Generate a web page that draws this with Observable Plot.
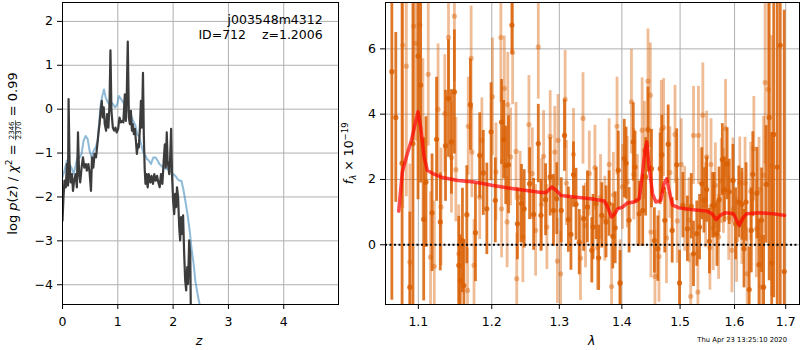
<!DOCTYPE html>
<html><head><meta charset="utf-8">
<script src="https://cdn.jsdelivr.net/npm/d3@7"></script>
<script src="https://cdn.jsdelivr.net/npm/@observablehq/plot@0.6"></script>
<style>
body{margin:0;background:#fff;}
#wrap{position:relative;width:800px;height:350px;font-family:"DejaVu Sans",sans-serif;}
#wrap svg{position:absolute;top:0;overflow:visible;}
</style></head><body><div id="wrap"></div><script>
// ---------- left panel: log p(z) ----------
const zTicks = [0, 1, 2, 3, 4];
const pTicks = [-4, -3, -2, -1, 0, 1, 2];
const zDark = [0,0.018,0.036,0.06,0.08,0.1,0.11,0.127,0.145,0.17,0.19,0.21,0.236,0.26,0.28,0.3,0.32,0.345,0.37,0.394,0.42,0.44,0.467,0.49,0.515,0.533,0.557,0.58,0.606,0.63,0.655,0.67,0.69,0.71,0.727,0.745,0.764,0.788,0.806,0.83,0.85,0.867,0.885,0.91,0.933,0.957,0.98,1.006,1.03,1.055,1.08,1.1,1.127,1.145,1.16,1.18,1.2,1.218,1.236,1.255,1.27,1.29,1.31,1.327,1.345,1.364,1.38,1.4,1.418,1.436,1.455,1.47,1.485,1.5,1.52,1.54,1.56,1.59,1.61,1.636,1.66,1.685,1.71,1.733,1.757,1.78,1.806,1.83,1.85,1.867,1.885,1.9,1.93,1.945,1.964,1.98,2.0,2.02,2.036,2.055,2.07,2.09,2.11,2.127,2.145,2.164,2.18,2.2,2.218,2.236,2.255,2.27,2.29,2.31,2.32];
const pDark = [-2.54,-2.0,-1.63,-1.78,-1.25,-1.74,0.23,-1.17,-1.67,-1.48,-1.86,-1.63,-1.48,-1.78,-0.53,-1.48,-1.67,-1.33,-1.1,-1.33,-1.25,-1.4,-1.25,-1.44,-1.86,-1.1,-1.33,-1.02,-1.1,-0.8,-0.49,-0.34,-0.04,0.19,-0.19,0.04,-0.34,-0.49,-0.11,-0.42,0.11,1.34,-0.04,-0.42,-0.49,-0.42,-0.53,-0.45,-0.19,-0.30,-0.27,-0.30,0.34,-0.27,0.19,1.54,-0.19,-0.34,-0.04,-0.49,-0.34,-0.57,-0.45,-0.72,-1.02,-0.8,-0.87,-0.42,0.19,-0.42,0.83,-0.57,-1.33,-1.7,-1.48,-1.78,-1.48,-1.67,-1.52,-1.70,-1.48,-1.63,-1.52,-1.67,-1.78,-1.48,-1.70,-1.17,-0.80,-1.33,-0.53,-1.17,-1.48,-1.17,-0.45,-1.48,-2.08,-2.39,-1.93,-2.23,-1.78,-2.0,-2.69,-2.99,-2.46,-2.84,-2.42,-3.30,-3.9,-4.13,-3.6,-3.98,-2.99,-3.30,-4.6];
const zBlue = [0,0.036,0.08,0.12,0.164,0.2,0.236,0.27,0.31,0.345,0.38,0.42,0.455,0.49,0.527,0.564,0.6,0.636,0.66,0.69,0.72,0.75,0.78,0.806,0.84,0.88,0.915,0.95,0.99,1.02,1.06,1.1,1.13,1.17,1.2,1.24,1.28,1.32,1.35,1.39,1.42,1.46,1.5,1.53,1.56,1.6,1.64,1.68,1.72,1.75,1.79,1.82,1.86,1.9,1.93,1.97,2.0,2.04,2.08,2.115,2.15,2.19,2.22,2.26,2.3,2.33,2.37,2.4,2.44,2.48,2.52];
const pBlue = [-1.55,-1.4,-1.17,-1.25,-1.33,-1.48,-1.29,-1.1,-1.1,-1.02,-0.72,-0.61,-0.68,-0.95,-1.1,-0.95,-0.87,-0.72,-0.34,0.11,0.30,0.45,0.27,0.19,0.11,0.15,0.11,0.04,0.11,0.30,0.23,0.15,0.08,0.0,-0.08,-0.15,-0.27,-0.38,-0.57,-0.64,-0.8,-0.98,-1.06,-1.14,-1.17,-1.25,-1.1,-1.1,-1.17,-1.25,-1.29,-1.33,-1.36,-1.36,-1.4,-1.44,-1.48,-1.52,-1.59,-1.63,-1.63,-1.86,-2.08,-2.39,-2.77,-3.14,-3.52,-3.9,-4.2,-4.45,-4.8];
const annot1 = "j003548m4312";
const annot2 = "ID=712    z=1.2006";

// ---------- right panel: spectrum ----------
const lamTicks = [1.1, 1.2, 1.3, 1.4, 1.5, 1.6, 1.7];
const fTicks = [0, 2, 4, 6];
const lamA = [1.066,1.071,1.079,1.089,1.093,1.0996,1.103,1.107,1.110,1.118,1.124,1.129,1.136,1.140,1.144,1.148,1.154,1.156,1.159,1.161,1.165,1.170,1.177,1.183,1.188,1.193,1.199,1.205,1.214,1.217,1.220,1.224,1.229,1.237,1.243,1.247,1.255,1.261,1.268,1.272,1.279,1.286,1.291,1.296,1.303,1.308,1.314,1.318,1.322,1.326,1.331,1.338,1.344,1.351,1.353,1.358,1.362,1.367,1.374,1.379,1.385,1.389,1.394,1.397,1.404,1.407,1.412,1.419,1.422,1.429,1.435,1.440,1.444,1.450,1.455,1.461,1.465,1.468,1.473,1.479,1.486,1.494,1.499,1.505,1.513,1.520,1.524,1.530,1.535,1.539,1.543,1.548,1.553,1.559,1.562,1.567,1.571,1.577,1.581,1.586,1.590,1.597,1.602,1.608,1.614,1.618,1.622,1.628,1.632,1.635,1.643,1.647,1.652,1.656,1.661,1.667,1.672,1.676,1.683,1.689,1.697];
const fA = [5.3,3.9,2.5,-1.3,3.1,5.78,4.89,0.78,1.92,0.98,3.23,0.70,3.03,4.48,3.15,4.68,-0.63,-1.10,0.13,-1.25,0.92,4.29,0.37,2.74,2.20,1.10,3.46,1.36,3.76,3.22,2.43,2.45,6.73,0.64,1.26,1.10,1.87,0.93,3.10,0.90,1.38,2.08,1.05,1.41,1.05,3.35,0.77,0.32,2.15,1.24,0.08,0.80,1.16,-0.17,0.54,1.26,-0.40,0.90,0.70,1.26,0.26,0.52,2.28,-1.18,2.64,2.50,0.75,3.15,2.38,0.95,1.05,2.08,3.53,2.33,0.13,-0.12,2.33,2.76,0.75,3.08,0.44,2.45,-1.17,1.21,0.49,1.18,-0.28,0.34,0.54,1.87,1.36,1.69,0.11,1.21,1.21,0.34,1.38,2.61,1.69,2.48,1.62,1.97,0.64,1.31,1.24,-0.12,1.31,-1.37,0.44,2.16,1.58,-0.61,0.75,-1.30,1.85,3.90,-0.56,3.38,2.38,6.11,-0.82];
const eA = [7,2.6,7,2.3,5,4.4,3,2.5,2.0,1.8,1.9,1.5,1.7,1.8,1.6,1.9,1.5,1.4,1.6,1.4,1.5,1.4,1.5,1.3,1.3,1.4,1.5,1.3,1.3,1.2,1.2,1.5,0.9,1.1,1.2,1.2,1.1,1.1,1.2,1.1,1.1,1.2,1.1,1.1,1.0,1.1,1.0,1.1,1.0,1.1,1.0,1.0,1.1,1.0,1.0,1.1,1.0,1.0,1.1,1.0,1.0,1.1,1.2,1.0,1.2,1.1,1.0,1.2,1.1,1.0,1.1,1.2,1.3,1.2,1.0,1.0,1.1,1.2,1.0,1.2,1.0,1.1,1.0,1.0,1.0,1.0,1.0,1.0,1.0,1.1,1.0,1.0,1.0,1.0,1.0,1.0,1.0,1.1,1.0,1.1,1.0,1.1,1.1,1.1,1.1,1.2,1.2,1.3,1.3,1.3,1.4,1.4,1.6,1.6,1.8,5,4,5,7,8,8];
const lamB = [1.080,1.0845,1.089,1.094,1.097,1.102,1.106,1.113,1.116,1.121,1.126,1.130,1.135,1.140,1.144,1.148,1.150,1.154,1.166,1.167,1.171,1.172,1.175,1.183,1.186,1.201,1.206,1.213,1.214,1.218,1.222,1.223,1.227,1.230,1.235,1.236,1.241,1.245,1.254,1.259,1.264,1.268,1.273,1.276,1.281,1.286,1.293,1.297,1.298,1.302,1.309,1.311,1.322,1.333,1.337,1.341,1.347,1.356,1.360,1.365,1.372,1.379,1.383,1.386,1.392,1.397,1.401,1.409,1.416,1.420,1.426,1.434,1.438,1.444,1.448,1.449,1.456,1.463,1.467,1.471,1.476,1.482,1.491,1.495,1.502,1.508,1.516,1.519,1.524,1.532,1.533,1.541,1.546,1.548,1.554,1.556,1.560,1.564,1.570,1.575,1.579,1.583,1.589,1.595,1.597,1.604,1.610,1.614,1.620,1.624,1.631,1.637,1.642,1.647,1.652,1.656,1.659,1.665,1.672];
const fB = [6.11,5.47,-0.53,6.70,6.17,6.73,3.20,5.22,-0.38,-0.66,4.15,1.16,4.02,6.35,2.67,7.00,2.30,-0.28,-1.40,3.63,5.71,2.84,-0.63,1.46,3.20,4.53,2.23,6.35,1.10,4.79,0.70,4.29,2.69,5.89,2.86,-1.04,1.46,0.24,3.68,2.18,0.44,6.06,1.24,2.71,0.54,3.32,2.84,-0.50,3.20,-0.89,4.45,1.89,2.77,-0.41,3.87,0.59,2.18,2.36,-0.09,1.46,0.80,2.46,-1.28,1.53,3.63,-1.15,1.77,1.92,4.38,2.16,1.36,3.51,2.89,5.01,4.58,0.39,-0.97,-0.36,3.53,3.59,0.21,2.21,3.38,0.73,2.46,1.10,0.75,-1.58,3.35,-1.45,3.35,3.97,1.21,2.69,-0.09,2.46,0.51,1.82,0.24,1.95,1.65,3.56,0.82,-0.17,1.97,0.15,1.90,0.80,1.89,-0.89,1.64,2.94,0.49,1.69,-1.30,2.13,4.97,4.76,2.41];
const eB = [5,4,3,3.5,3,3,2.5,2.2,2.0,2.0,2.0,1.8,1.8,2.0,1.7,2.0,1.6,1.5,1.3,1.5,1.6,1.4,1.4,1.3,1.3,1.8,1.5,2.0,1.5,1.6,1.4,1.6,1.5,1.6,1.5,1.4,1.4,1.4,1.5,1.4,1.4,1.6,1.4,1.4,1.3,1.4,1.4,1.3,1.4,1.3,1.5,1.3,1.4,1.3,1.4,1.3,1.3,1.3,1.3,1.3,1.3,1.4,1.3,1.3,1.5,1.3,1.3,1.4,1.6,1.4,1.4,1.6,1.5,1.6,1.6,1.4,1.4,1.4,1.5,1.5,1.4,1.4,1.5,1.3,1.4,1.3,1.3,1.3,1.5,1.3,1.5,1.6,1.3,1.4,1.3,1.4,1.3,1.3,1.3,1.3,1.3,1.5,1.3,1.3,1.3,1.3,1.4,1.4,1.4,1.4,1.5,1.6,1.5,1.6,1.6,1.8,2.5,3,4];
const lamModel = [1.0747,1.0793,1.0845,1.091,1.096,1.0996,1.103,1.1075,1.1118,1.119,1.1304,1.1526,1.1753,1.2,1.2237,1.2478,1.2724,1.2799,1.2884,1.295,1.3026,1.3232,1.3496,1.371,1.3766,1.383,1.3885,1.393,1.401,1.4095,1.4206,1.429,1.4347,1.4387,1.442,1.446,1.4518,1.4575,1.466,1.4718,1.4765,1.4806,1.4866,1.4982,1.5189,1.5488,1.5578,1.5657,1.573,1.5822,1.5977,1.604,1.6089,1.6153,1.623,1.6485,1.6745,1.6977];
const fModel = [1.03,2.23,2.69,3.2,3.72,4.07,3.61,2.69,2.28,2.18,2.07,1.97,1.92,1.82,1.74,1.67,1.6,1.6,1.77,1.67,1.51,1.46,1.41,1.34,1.15,0.85,0.95,1.10,1.15,1.28,1.31,1.41,2.18,2.89,3.15,2.38,1.56,1.31,1.36,1.87,2.02,1.67,1.21,1.13,1.08,1.03,0.95,0.77,0.90,0.98,0.95,0.75,0.59,0.80,0.95,0.98,0.95,0.90];
const stamp = "Thu Apr 23 13:25:10 2020";

// ---------- build ----------
const FONT = "DejaVu Sans";
const FS = "12.5px";
const minus = d => (d < 0 ? "\u2212" + Math.abs(d) : String(d));
const darkLine = zDark.map((z, i) => ({z, p: pDark[i]}));
const blueLine = zBlue.map((z, i) => ({z, p: pBlue[i]}));
const A = lamA.map((l, i) => ({lam: l, f: fA[i], e: eA[i]}));
const B = lamB.map((l, i) => ({lam: l, f: fB[i], e: eB[i]}));
const M = lamModel.map((l, i) => ({lam: l, f: fModel[i]}));
const GRID = "#b0b0b0";
const ORANGE = "#d95f02";

const left = Plot.plot({
  width: 340, height: 350,
  marginLeft: 62, marginRight: 2, marginTop: 2, marginBottom: 46,
  style: {fontFamily: FONT, fontSize: FS, background: "transparent", color: "black"},
  x: {domain: [0, 4.99], ticks: zTicks, tickFormat: minus, label: null, tickSize: 5, tickPadding: 7.5},
  y: {domain: [-4.45, 2.43], ticks: pTicks, tickFormat: minus, label: null, tickSize: 5, tickPadding: 4.5},
  marks: [
    Plot.ruleX(zTicks, {stroke: GRID, strokeWidth: 1}),
    Plot.ruleY(pTicks, {stroke: GRID, strokeWidth: 1}),
    Plot.line(blueLine, {x: "z", y: "p", stroke: "#1f77b4", strokeOpacity: 0.5, strokeWidth: 2, clip: true}),
    Plot.line(darkLine, {x: "z", y: "p", stroke: "#3c3c3c", strokeWidth: 2.2, clip: true}),
    Plot.frame({stroke: "black", strokeWidth: 1})
  ]
});
left.style.left = "0px";

const right = Plot.plot({
  width: 460, height: 350,
  marginLeft: 45, marginRight: 1, marginTop: 2, marginBottom: 46,
  style: {fontFamily: FONT, fontSize: FS, background: "transparent", color: "black"},
  x: {type: "log", domain: [1.058, 1.728], ticks: lamTicks, tickFormat: d => d.toFixed(1), label: null, tickSize: 5, tickPadding: 7.5},
  y: {domain: [-1.83, 7.42], ticks: fTicks, tickFormat: minus, label: null, tickSize: 5, tickPadding: 4.5},
  marks: [
    Plot.ruleX(lamTicks, {stroke: GRID, strokeWidth: 1}),
    Plot.ruleY(fTicks, {stroke: GRID, strokeWidth: 1}),
    Plot.ruleX(B, {x: "lam", y1: d => d.f - d.e, y2: d => d.f + d.e, stroke: ORANGE, strokeOpacity: 0.42, strokeWidth: 2.8, clip: true}),
    Plot.dot(B, {x: "lam", y: "f", r: 2.6, fill: ORANGE, fillOpacity: 0.42, stroke: null, clip: true}),
    Plot.ruleX(A, {x: "lam", y1: d => d.f - d.e, y2: d => d.f + d.e, stroke: ORANGE, strokeOpacity: 0.85, strokeWidth: 2.8, clip: true}),
    Plot.dot(A, {x: "lam", y: "f", r: 2.6, fill: ORANGE, fillOpacity: 0.85, stroke: null, clip: true}),
    Plot.line(M, {x: "lam", y: "f", stroke: "red", strokeOpacity: 0.7, strokeWidth: 3.5, clip: true}),
    Plot.ruleY([0], {stroke: "black", strokeWidth: 2, strokeDasharray: "2,2.5"}),
    Plot.frame({stroke: "black", strokeWidth: 1})
  ]
});
right.style.left = "340px";

const wrap = document.getElementById("wrap");
wrap.appendChild(left);
wrap.appendChild(right);

// ---------- texts ----------
const L = d3.select(left);
const tstyle = (sel, size = FS, anchor = "start") => sel.attr("font-family", FONT).attr("font-size", size)
  .attr("text-anchor", anchor).attr("fill", "black").style("white-space", "pre");
tstyle(L.append("text"), FS, "end").attr("x", 322.7).attr("y", 24).text(annot1);
tstyle(L.append("text"), FS, "end").attr("x", 322.7).attr("y", 39.3).text(annot2);
tstyle(L.append("text"), FS, "middle").attr("x", 199).attr("y", 344.5).style("font-style", "italic").text("z");

// left y label with a fraction
{
  const g = L.append("g").attr("transform", "translate(17.3,153.5) rotate(-90)");
  const t1 = tstyle(g.append("text"), "13px");
  t1.append("tspan").text("log ");
  t1.append("tspan").style("font-style", "italic").text("p");
  t1.append("tspan").text("(");
  t1.append("tspan").style("font-style", "italic").text("z");
  t1.append("tspan").text(") / ");
  t1.append("tspan").style("font-style", "italic").text("\u03c7");
  t1.append("tspan").attr("dy", -5).attr("font-size", "9px").text("2");
  t1.append("tspan").attr("dy", 5).text(" = ");
  const w1 = t1.node().getComputedTextLength();
  const num = tstyle(g.append("text"), "7px", "middle").text("2346");
  const den = tstyle(g.append("text"), "7px", "middle").text("2370");
  const wf = Math.max(num.node().getComputedTextLength(), den.node().getComputedTextLength()) + 2;
  const t3 = tstyle(g.append("text"), "13px").text(" = 0.99");
  const w3 = t3.node().getComputedTextLength();
  const x0 = -(w1 + wf + w3) / 2;
  t1.attr("x", x0).attr("y", 0);
  num.attr("x", x0 + w1 + wf / 2).attr("y", -3);
  den.attr("x", x0 + w1 + wf / 2).attr("y", 3.9);
  g.append("line").attr("x1", x0 + w1).attr("x2", x0 + w1 + wf).attr("y1", -1.8).attr("y2", -1.8).attr("stroke", "black").attr("stroke-width", 0.6);
  t3.attr("x", x0 + w1 + wf).attr("y", 0);
}

const R = d3.select(right);
tstyle(R.append("text"), FS, "middle").attr("x", 251.7).attr("y", 344.5).style("font-style", "italic").text("\u03bb");
tstyle(R.append("text"), "6.8px", "end").attr("x", 447).attr("y", 341.5).text(stamp);
{
  const g = R.append("g").attr("transform", "translate(13.3,153.3) rotate(-90)");
  const t = tstyle(g.append("text"), FS, "middle");
  t.append("tspan").style("font-style", "italic").text("f");
  t.append("tspan").attr("dy", 2.5).attr("font-size", "8.5px").style("font-style", "italic").text("\u03bb");
  t.append("tspan").attr("dy", -2.5).text(" \u00d7 10");
  t.append("tspan").attr("dy", -5).attr("font-size", "8.5px").text("\u221219");
}
</script></body></html>
